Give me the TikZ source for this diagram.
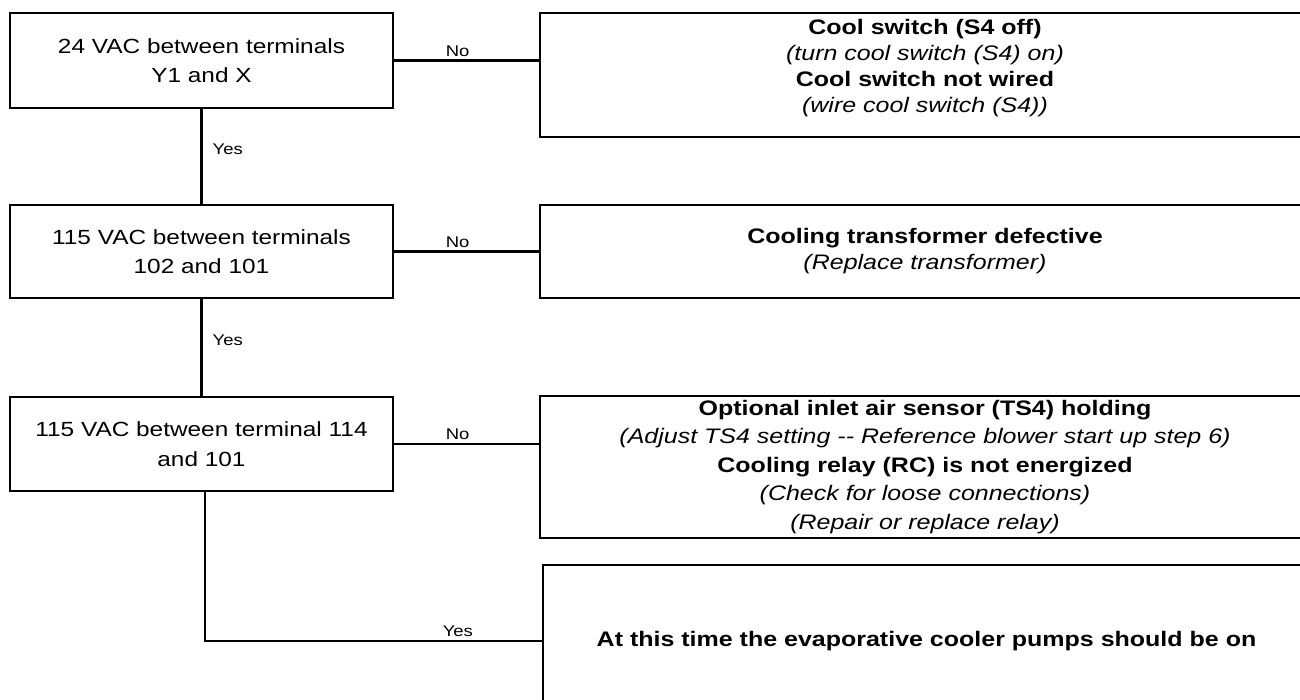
\documentclass[tikz,border=0pt]{standalone}
\usepackage{fontspec}
\setmainfont{Liberation Sans}[FakeStretch=1.19]
\usetikzlibrary{positioning}
\tikzset{
  checkbox/.style={rectangle, draw, line width=2.6pt, outer sep=0pt,
    minimum width=383pt, inner sep=0pt, align=center,
    font=\fontsize{20.5}{29.5}\selectfont},
  faultbox/.style={rectangle, draw, line width=2.6pt, outer sep=0pt,
    minimum width=770pt, inner sep=0pt, align=center,
    font=\fontsize{21}{26}\selectfont},
  faulttext/.style={inner sep=0pt, align=center,
    font=\fontsize{21}{26}\selectfont},
  link/.style={line width=2.4pt},
  answer/.style={inner sep=2pt, font=\fontsize{15.5}{17}\selectfont}
}
\begin{document}
\begin{tikzpicture}[x=1pt, y=-1pt]
  \useasboundingbox (0,0) rectangle (1300,700);
  \clip (0,0) rectangle (1300,700);

  % Checks
  \node[checkbox, anchor=north west, minimum height=95pt] (volt24) at (10,13)
    {24 VAC between terminals\\Y1 and X};
  \node[checkbox, anchor=north west, minimum height=93pt] (volt102) at (10,205)
    {115 VAC between terminals\\102 and 101};
  \node[checkbox, anchor=north west, minimum height=94pt] (volt114) at (10,397)
    {115 VAC between terminal 114\\and 101};

  % Faults
  \node[faultbox, anchor=north west, minimum height=124pt] (coolsw) at (540,13) {};
  \node[faulttext] (coolswtext) at ([yshift=7pt]coolsw.center)
    {\textbf{Cool switch (S4 off)}\\
     \textit{(turn cool switch (S4) on)}\\
     \textbf{Cool switch not wired}\\
     \textit{(wire cool switch (S4))}};
  \node[faultbox, anchor=north west, minimum height=93pt] (xfmr) at (540,205)
    {\textbf{Cooling transformer defective}\\
     \textit{(Replace transformer)}};
  \node[faultbox, anchor=north west, minimum height=142pt,
    font=\fontsize{21}{28.5}\selectfont] (relay) at (540,396)
    {\textbf{Optional inlet air sensor (TS4) holding}\\
     \textit{(Adjust TS4 setting -{}- Reference blower start up step 6)}\\
     \textbf{Cooling relay (RC) is not energized}\\
     \textit{(Check for loose connections)}\\
     \textit{(Repair or replace relay)}};
  \node[faultbox, anchor=north west, minimum height=152pt, minimum width=767pt] (pumps) at (543,565)
    {\textbf{At this time the evaporative cooler pumps should be on}};

  % No branches
  \draw[link] (volt24.east) -- (volt24.east -| coolsw.west)
    node[answer, pos=0.44, above=1pt] {No};
  \draw[link] (volt102.east) -- (volt102.east -| xfmr.west)
    node[answer, pos=0.44, above=1pt] {No};
  \draw[link] (volt114.east) -- (volt114.east -| relay.west)
    node[answer, pos=0.44, above=1pt] {No};

  % Yes branches
  \draw[link] (volt24) -- (volt102)
    node[answer, pos=0.43, right=8pt] {Yes};
  \draw[link] (volt102) -- (volt114)
    node[answer, pos=0.43, right=8pt] {Yes};
  \draw[link] ([xshift=3.5pt]volt114.south) |- (pumps.west)
    node[answer, pos=0.874, above=1pt] {Yes};
\end{tikzpicture}
\end{document}
